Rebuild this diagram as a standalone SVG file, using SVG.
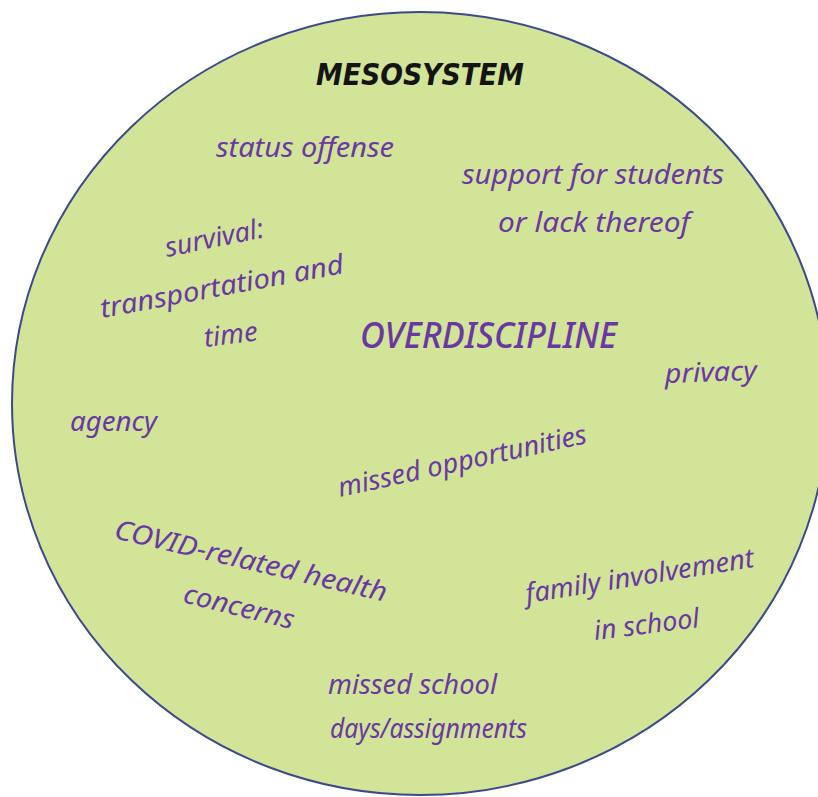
<svg xmlns="http://www.w3.org/2000/svg" width="818" height="797" viewBox="0 0 818 797">
  <style>
    .hand { font-family: "Noto Sans", "Open Sans", "DejaVu Sans", sans-serif; font-style: italic; font-size: 27px; fill: #6a38a3; }
    .core { font-family: "Noto Sans", "Open Sans", "DejaVu Sans", sans-serif; font-style: italic; font-weight: 500; font-size: 36px; fill: #6a38a3; }
    .title { font-family: "DejaVu Sans", "Liberation Sans", sans-serif; font-style: italic; font-weight: bold; font-size: 31px; fill: #141414; }
  </style>

  <!-- system boundary -->
  <g id="mesosystem-boundary">
    <ellipse cx="420" cy="403.5" rx="408" ry="391.5" fill="#d2e498" stroke="#3c4a8c" stroke-width="2"/>
  </g>

  <g id="title">
    <text class="title" x="316" y="85" textLength="208" lengthAdjust="spacingAndGlyphs">MESOSYSTEM</text>
  </g>

  <g id="status-offense">
    <text class="hand" x="216" y="157" textLength="178" lengthAdjust="spacingAndGlyphs">status offense</text>
  </g>

  <g id="support-for-students">
    <text class="hand" x="462" y="184" textLength="262" lengthAdjust="spacingAndGlyphs">support for students</text>
    <text class="hand" x="498" y="232" textLength="192" lengthAdjust="spacingAndGlyphs">or lack thereof</text>
  </g>

  <g id="survival">
    <text class="hand" x="167" y="257" textLength="100" lengthAdjust="spacingAndGlyphs" transform="rotate(-11.5 167 257)">survival:</text>
    <text class="hand" x="102" y="318" textLength="247" lengthAdjust="spacingAndGlyphs" transform="rotate(-10.5 102 318)">transportation and</text>
    <text class="hand" x="205" y="347" textLength="54" lengthAdjust="spacingAndGlyphs" transform="rotate(-7 205 347)">time</text>
  </g>

  <g id="overdiscipline">
    <text class="core" x="360" y="348" textLength="257" lengthAdjust="spacingAndGlyphs">OVERDISCIPLINE</text>
  </g>

  <g id="privacy">
    <text class="hand" x="665" y="383" textLength="92" lengthAdjust="spacingAndGlyphs" transform="rotate(-2 665 383)">privacy</text>
  </g>

  <g id="agency">
    <text class="hand" x="70" y="431" textLength="87" lengthAdjust="spacingAndGlyphs">agency</text>
  </g>

  <g id="missed-opportunities">
    <text class="hand" x="340" y="497" textLength="254" lengthAdjust="spacingAndGlyphs" transform="rotate(-12.3 340 497)">missed opportunities</text>
  </g>

  <g id="covid-health">
    <text class="hand" x="113" y="538" textLength="279" lengthAdjust="spacingAndGlyphs" transform="rotate(13.2 113 538)">COVID-related health</text>
    <text class="hand" x="182" y="602" textLength="113" lengthAdjust="spacingAndGlyphs" transform="rotate(14 182 602)">concerns</text>
  </g>

  <g id="family-involvement">
    <text class="hand" x="527" y="603" textLength="231" lengthAdjust="spacingAndGlyphs" transform="rotate(-9 527 603)">family involvement</text>
    <text class="hand" x="595" y="640" textLength="106" lengthAdjust="spacingAndGlyphs" transform="rotate(-7 595 640)">in school</text>
  </g>

  <g id="missed-school">
    <text class="hand" x="328" y="694" textLength="169" lengthAdjust="spacingAndGlyphs">missed school</text>
    <text class="hand" x="330" y="738" textLength="197" lengthAdjust="spacingAndGlyphs">days/assignments</text>
  </g>
</svg>
